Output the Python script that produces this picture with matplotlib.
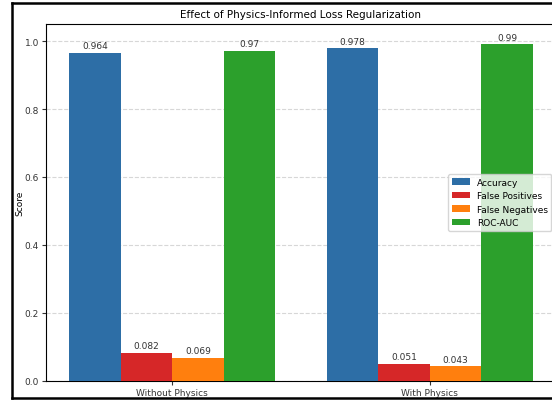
import numpy as np
import matplotlib
matplotlib.use('Agg')
import matplotlib.pyplot as plt
from matplotlib.lines import Line2D


Groups = ['Without Physics', 'With Physics']
Metrics = ['Accuracy', 'False Positives', 'False Negatives', 'ROC-AUC']
Accuracy = [0.964, 0.978]
FalsePositives = [0.082, 0.051]
FalseNegatives = [0.069, 0.043]
RocAuc = [0.97, 0.99]

Colors = ['#2d6ea6', '#d62728', '#ff7f0e', '#2ca02c']
FontSize = 6.5


def main():
    plt.rcParams['font.size'] = FontSize

    fig = plt.figure(figsize=(5.52, 4.02), dpi=100)
    ax = fig.add_axes([46 / 552, 20 / 402, 510 / 552, 357 / 402])

    x = np.arange(len(Groups))
    width = 0.2
    series = [Accuracy, FalsePositives, FalseNegatives, RocAuc]

    for i, vals in enumerate(series):
        bars = ax.bar(x + (i - 1.5) * width, vals, width, label=Metrics[i], color=Colors[i], zorder=3)
        ax.bar_label(bars, labels=[str(v) for v in vals], padding=2, fontsize=FontSize, color='#333333')

    ax.set_xticks(x)
    ax.set_xticklabels(Groups)
    ax.set_ylim(0, 1.05)
    ax.set_ylabel('Score', fontsize=FontSize, labelpad=0.5)
    ax.set_title('Effect of Physics-Informed Loss Regularization', fontsize=7.5, pad=5)
    ax.grid(axis='y', linestyle='--', alpha=0.5, zorder=0)
    ax.tick_params(labelsize=FontSize, colors='#333333', pad=2, length=3)
    ax.legend(loc='center right', fontsize=FontSize)

    # screenshot frame
    for xs, ys in [([12 / 552, 12 / 552], [3 / 402, 398 / 402]),
                   ([12 / 552, 1.0], [3 / 402, 3 / 402]),
                   ([12 / 552, 1.0], [398 / 402, 398 / 402])]:
        fig.add_artist(Line2D(xs, ys, color='black', linewidth=1.8, transform=fig.transFigure, zorder=10))

    fig.savefig('out.png', dpi=100)


if __name__ == '__main__':
    main()
